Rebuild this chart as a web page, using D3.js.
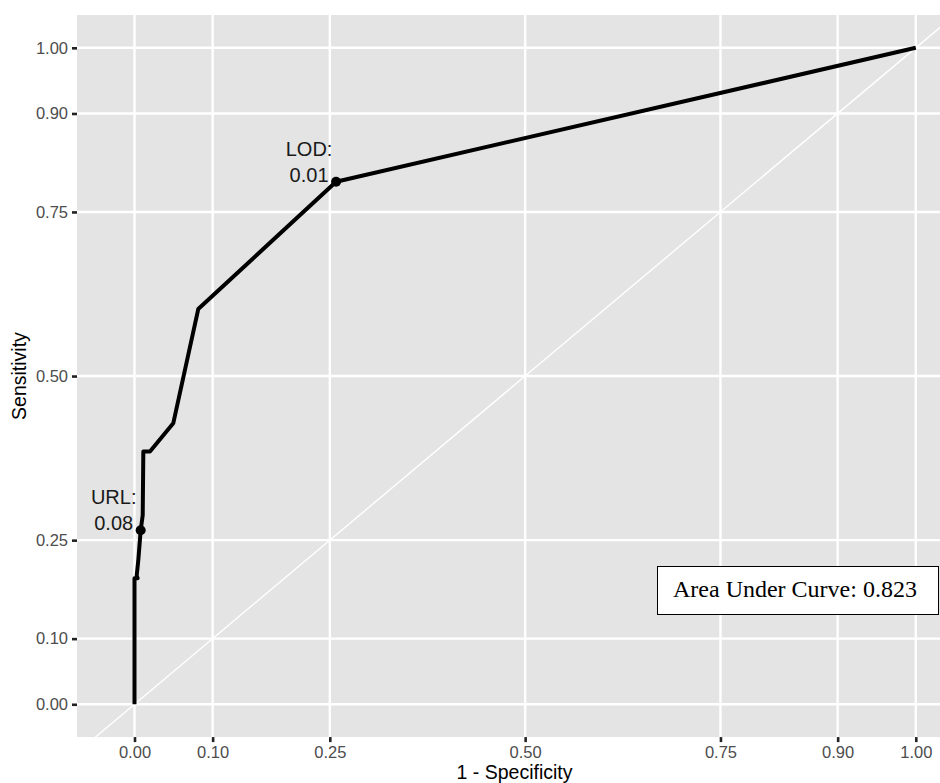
<!DOCTYPE html>
<html>
<head>
<meta charset="utf-8">
<script src="https://cdn.jsdelivr.net/npm/d3@7"></script>
<style>
  html, body { margin: 0; padding: 0; background: #fff; }
  svg { display: block; }
</style>
</head>
<body>
<svg id="chart" width="940" height="783"></svg>
<script>
// ROC-Kurve (1 - Spezifitaet vs. Sensitivitaet)
const fpr = [0, 0, 0.004, 0.0028, 0.0049, 0.0079, 0.0105, 0.0113, 0.0198, 0.0496, 0.0816, 0.258, 1];
const tpr = [0, 0.192, 0.192, 0.196, 0.220, 0.265, 0.288, 0.385, 0.385, 0.428, 0.602, 0.796, 1];

const tickValues = [0, 0.10, 0.25, 0.50, 0.75, 0.90, 1.00];

// markierte Schwellenwerte
const cutLabels = ["URL:", "LOD:"];
const cutValues = ["0.08", "0.01"];
const cutFpr = [0.0079, 0.258];
const cutTpr = [0.265, 0.796];

const aucText = "Area Under Curve: 0.823";

const svg = d3.select("#chart");

const panel = { left: 77, right: 940, top: 15, bottom: 737.1 };

const x = d3.scaleLinear()
  .domain([-0.0736, 1.031])
  .range([panel.left, panel.right]);

const y = d3.scaleLinear()
  .domain([-0.05, 1.05])
  .range([panel.bottom, panel.top]);

svg.append("defs").append("clipPath")
  .attr("id", "panel-clip")
  .append("rect")
    .attr("x", panel.left)
    .attr("y", panel.top)
    .attr("width", panel.right - panel.left)
    .attr("height", panel.bottom - panel.top);

// Hintergrund
svg.append("rect")
  .attr("x", panel.left)
  .attr("y", panel.top)
  .attr("width", panel.right - panel.left)
  .attr("height", panel.bottom - panel.top)
  .attr("fill", "#e4e4e4");

const plot = svg.append("g").attr("clip-path", "url(#panel-clip)");

// Gitterlinien
plot.selectAll("line.grid-x")
  .data(tickValues)
  .enter()
  .append("line")
    .attr("class", "grid-x")
    .attr("x1", d => x(d))
    .attr("x2", d => x(d))
    .attr("y1", panel.top)
    .attr("y2", panel.bottom)
    .attr("stroke", "#fff")
    .attr("stroke-width", 2.4);

plot.selectAll("line.grid-y")
  .data(tickValues)
  .enter()
  .append("line")
    .attr("class", "grid-y")
    .attr("x1", panel.left)
    .attr("x2", panel.right)
    .attr("y1", d => y(d))
    .attr("y2", d => y(d))
    .attr("stroke", "#fff")
    .attr("stroke-width", 2.4);

// Diagonale
plot.append("line")
  .attr("x1", x(-0.1))
  .attr("y1", y(-0.1))
  .attr("x2", x(1.1))
  .attr("y2", y(1.1))
  .attr("stroke", "#fff")
  .attr("stroke-width", 1.4);

// Kurve
const rocData = fpr.map((d, i) => ({ fpr: d, tpr: tpr[i] }));

plot.append("path")
  .datum(rocData)
  .attr("fill", "none")
  .attr("stroke", "#000")
  .attr("stroke-width", 4)
  .attr("stroke-linejoin", "round")
  .attr("d", d3.line().x(d => x(d.fpr)).y(d => y(d.tpr)));

// Punkte + Beschriftung
const cuts = cutFpr.map((d, i) => ({ fpr: d, tpr: cutTpr[i], label: cutLabels[i], value: cutValues[i] }));

plot.selectAll("circle.cut")
  .data(cuts)
  .enter()
  .append("circle")
    .attr("class", "cut")
    .attr("cx", d => x(d.fpr))
    .attr("cy", d => y(d.tpr))
    .attr("r", 5)
    .attr("fill", "#000");

const cutText = plot.selectAll("text.cut-label")
  .data(cuts)
  .enter()
  .append("text")
    .attr("class", "cut-label")
    .attr("text-anchor", "middle")
    .attr("font-family", "Liberation Sans, Arial, sans-serif")
    .attr("font-size", "20px")
    .attr("fill", "#1a1a1a");

cutText.append("tspan")
  .attr("x", d => x(d.fpr) - 27)
  .attr("y", d => y(d.tpr) - 26)
  .text(d => d.label);

cutText.append("tspan")
  .attr("x", d => x(d.fpr) - 27)
  .attr("y", d => y(d.tpr))
  .text(d => d.value);

// AUC-Box
const aucBox = plot.append("g")
  .attr("transform", "translate(657,566)");

aucBox.append("rect")
  .attr("x", 0.5)
  .attr("y", 0.5)
  .attr("width", 281)
  .attr("height", 48)
  .attr("fill", "#fff")
  .attr("stroke", "#000")
  .attr("stroke-width", 1);

aucBox.append("text")
  .attr("x", 16)
  .attr("y", 31)
  .attr("font-family", "Liberation Serif, Times New Roman, serif")
  .attr("font-size", "24px")
  .attr("fill", "#000")
  .text(aucText);

// Achsen
const fmt = d3.format(".2f");

const xAxis = svg.append("g")
  .attr("transform", `translate(0,${panel.bottom})`)
  .call(d3.axisBottom(x).tickValues(tickValues).tickFormat(fmt).tickSize(5).tickPadding(4));

const yAxis = svg.append("g")
  .attr("transform", `translate(${panel.left},0)`)
  .call(d3.axisLeft(y).tickValues(tickValues).tickFormat(fmt).tickSize(5).tickPadding(4));

[xAxis, yAxis].forEach(a => {
  a.select(".domain").remove();
  a.selectAll(".tick line").attr("stroke", "#222").attr("stroke-width", 2.6);
  a.selectAll(".tick text")
    .attr("fill", "#4d4d4d")
    .attr("font-family", "Liberation Sans, Arial, sans-serif")
    .attr("font-size", "16.5px");
});

// Achsentitel
svg.append("text")
  .attr("x", (panel.left + panel.right) / 2 + 6)
  .attr("y", 779)
  .attr("text-anchor", "middle")
  .attr("font-family", "Liberation Sans, Arial, sans-serif")
  .attr("font-size", "19.5px")
  .attr("fill", "#000")
  .text("1 - Specificity");

svg.append("text")
  .attr("transform", `translate(26,${(panel.top + panel.bottom) / 2}) rotate(-90)`)
  .attr("text-anchor", "middle")
  .attr("font-family", "Liberation Sans, Arial, sans-serif")
  .attr("font-size", "19.5px")
  .attr("fill", "#000")
  .text("Sensitivity");
</script>
</body>
</html>
